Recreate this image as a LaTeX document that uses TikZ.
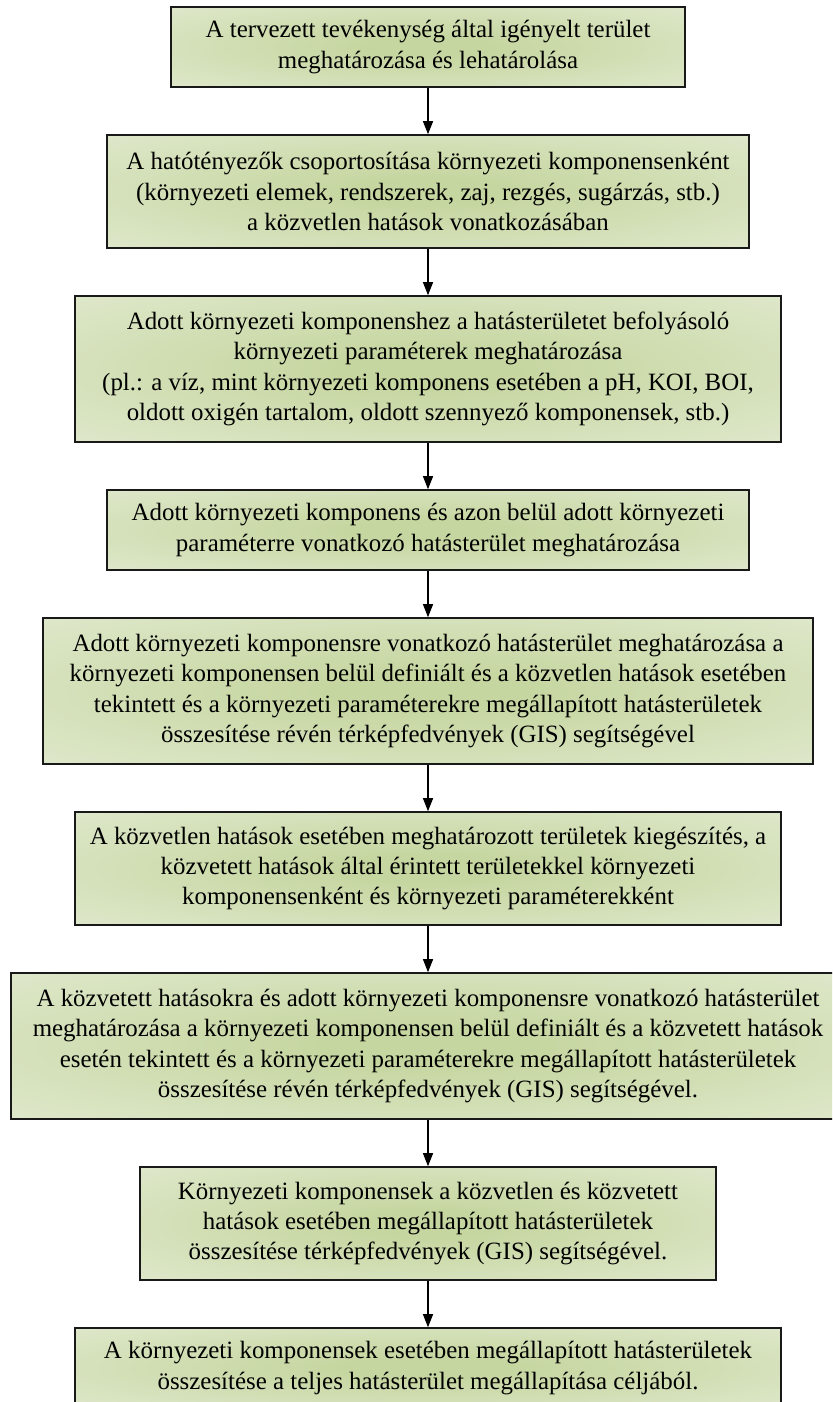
\documentclass[tikz,border=0pt]{standalone}
\usepackage{fontspec}
\setmainfont{Liberation Serif}
\usetikzlibrary{arrows.meta}
\definecolor{gIn}{RGB}{198,214,160}
\definecolor{gOut}{RGB}{231,238,218}
\definecolor{edgecol}{RGB}{25,25,25}
\pgfdeclareradialshading{boxshade}{\pgfpoint{0bp}{0bp}}{color(0bp)=(gIn); color(6bp)=(gIn); color(46bp)=(gOut); color(100bp)=(gOut)}
\tikzset{
  flowbox/.style={draw=edgecol, line width=1.6bp, shading=boxshade, rectangle,
    align=center, inner sep=2bp, font=\fontsize{25}{30.5}\selectfont, text=black},
  flowarrow/.style={draw=black, line width=1.2bp, -{Triangle[length=13bp,width=10bp]}}
}
\begin{document}
\begin{tikzpicture}[x=1bp,y=-1bp]
\useasboundingbox (0,0) rectangle (832,1402);
\clip (0,0) rectangle (832,1402);
\node[flowbox, minimum width=514bp, minimum height=80bp] (b1) at (428,47) {A tervezett tevékenység által igényelt terület\\meghatározása és lehatárolása};
\node[flowbox, minimum width=642bp, minimum height=113bp] (b2) at (428,191.5) {A hatótényezők csoportosítása környezeti komponensenként\\(környezeti elemek, rendszerek, zaj, rezgés, sugárzás, stb.)\\a közvetlen hatások vonatkozásában};
\node[flowbox, minimum width=706bp, minimum height=146bp] (b3) at (428,369) {Adott környezeti komponenshez a hatásterületet befolyásoló\\környezeti paraméterek meghatározása\\(pl.: a víz, mint környezeti komponens esetében a pH, KOI, BOI,\\oldott oxigén tartalom, oldott szennyező komponensek, stb.)};
\node[flowbox, minimum width=642bp, minimum height=80bp] (b4) at (428,530) {Adott környezeti komponens és azon belül adott környezeti\\paraméterre vonatkozó hatásterület meghatározása};
\node[flowbox, minimum width=770bp, minimum height=146bp] (b5) at (428,691) {Adott környezeti komponensre vonatkozó hatásterület meghatározása a\\környezeti komponensen belül definiált és a közvetlen hatások esetében\\tekintett és a környezeti paraméterekre megállapított hatásterületek\\összesítése révén térképfedvények (GIS) segítségével};
\node[flowbox, minimum width=706bp, minimum height=113bp] (b6) at (428,868.5) {A közvetlen hatások esetében meghatározott területek kiegészítés, a\\közvetett hatások által érintett területekkel környezeti\\komponensenként és környezeti paraméterekként};
\node[flowbox, minimum width=834bp, minimum height=146bp] (b7) at (428,1046) {A közvetett hatásokra és adott környezeti komponensre vonatkozó hatásterület\\meghatározása a környezeti komponensen belül definiált és a közvetett hatások\\esetén tekintett és a környezeti paraméterekre megállapított hatásterületek\\összesítése révén térképfedvények (GIS) segítségével.};
\node[flowbox, minimum width=576bp, minimum height=113bp] (b8) at (428,1223.5) {Környezeti komponensek a közvetlen és közvetett\\hatások esetében megállapított hatásterületek\\összesítése térképfedvények (GIS) segítségével.};
\node[flowbox, minimum width=706bp, minimum height=80bp] (b9) at (428,1368) {A környezeti komponensek esetében megállapított hatásterületek\\összesítése a teljes hatásterület megállapítása céljából.};
\draw[flowarrow] (b1) -- (b2);
\draw[flowarrow] (b2) -- (b3);
\draw[flowarrow] (b3) -- (b4);
\draw[flowarrow] (b4) -- (b5);
\draw[flowarrow] (b5) -- (b6);
\draw[flowarrow] (b6) -- (b7);
\draw[flowarrow] (b7) -- (b8);
\draw[flowarrow] (b8) -- (b9);
\end{tikzpicture}
\end{document}
